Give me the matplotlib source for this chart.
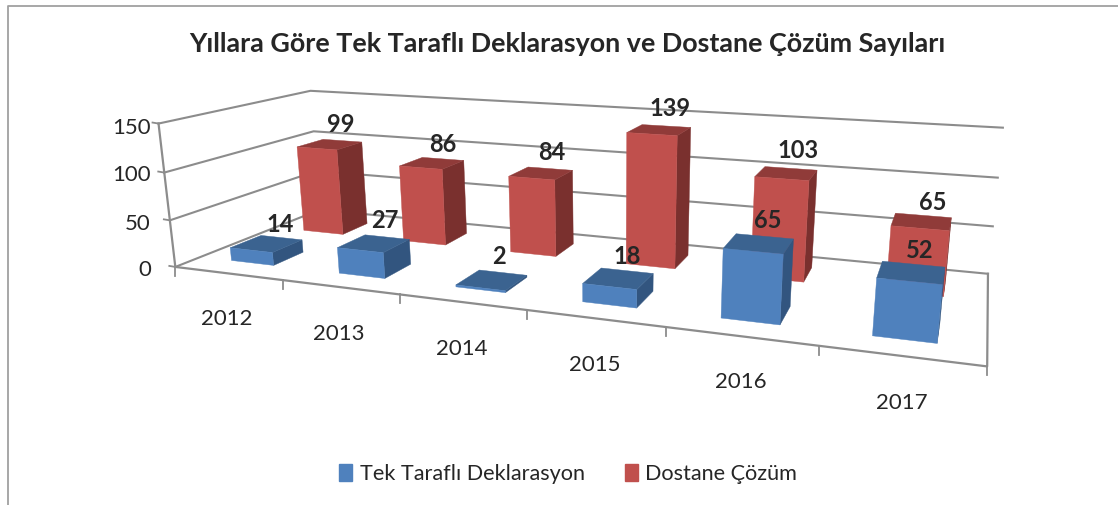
import matplotlib
matplotlib.use('Agg')
import matplotlib.pyplot as plt
import numpy as np
from matplotlib.patches import Patch

plt.rcParams['font.family'] = ['Lato', 'DejaVu Sans']

# Data
years = ['2012', '2013', '2014', '2015', '2016', '2017']
tek_tarafli = [14, 27, 2, 18, 65, 52]
dostane = [99, 86, 84, 139, 103, 65]
y_ticks = [0, 50, 100, 150]

title = 'Yıllara Göre Tek Taraflı Deklarasyon ve Dostane Çözüm Sayıları'
series_names = ['Tek Taraflı Deklarasyon', 'Dostane Çözüm']

# Colours: front, top, side
blue = ('#4F81BD', '#3B6390', '#32557F')
red = ('#C0504D', '#903B39', '#7A302E')
grid_col = '#8C8C8C'
text_col = '#262626'

# Where the corners of the 3d box land in the picture (x, depth, value) -> pixel
corners = [
    ((0, 0, 0), (175, 267)),
    ((0, 0, 150), (159, 123)),
    ((0, 1, 0), (320, 210)),
    ((0, 1, 150), (310, 91)),
    ((6, 1, 0), (988, 273)),
    ((6, 1, 150), (1003, 128)),
    ((6, 0, 0), (987, 367)),
]

# Fit a camera matrix to the corners
A = []
b = []
for (x, d, v), (px, py) in corners:
    A.append([x, d, v, 1, 0, 0, 0, 0, -px * x, -px * d, -px * v])
    A.append([0, 0, 0, 0, x, d, v, 1, -py * x, -py * d, -py * v])
    b += [px, py]
cam = np.linalg.lstsq(np.array(A, float), np.array(b, float), rcond=None)[0]
cam = np.append(cam, 1).reshape(3, 4)


def project(x, d, v):
    p = cam @ np.array([x, d, v, 1.0])
    return p[0] / p[2], p[1] / p[2]


def draw_bar(ax, x0, x1, d0, d1, v, cols):
    front = [(x0, d0, 0), (x1, d0, 0), (x1, d0, v), (x0, d0, v)]
    top = [(x0, d0, v), (x1, d0, v), (x1, d1, v), (x0, d1, v)]
    side = [(x1, d0, 0), (x1, d1, 0), (x1, d1, v), (x1, d0, v)]
    for face, col in ((side, cols[2]), (top, cols[1]), (front, cols[0])):
        pts = [project(*c) for c in face]
        ax.fill(*zip(*pts), color=col, lw=0.3, zorder=3)


fig = plt.figure(figsize=(11.18, 5.05), dpi=100)
ax = fig.add_axes([0, 0, 1, 1])
ax.set_xlim(0, 1118)
ax.set_ylim(505, 0)
ax.axis('off')

# Chart frame
ax.plot([8, 8, 1118], [505, 6, 6], color='#A0A0A0', lw=1.3)

# Walls and floor
for v in y_ticks:
    pts = [project(0, 0, v), project(0, 1, v), project(6, 1, v)]
    ax.plot(*zip(*pts), color=grid_col, lw=1.5, zorder=1)
pts = [project(0, 0, 150), project(0, 0, 0), project(6, 0, 0), project(6, 1, 0)]
ax.plot(*zip(*pts), color=grid_col, lw=1.6, zorder=1)

# Tick marks
for i in range(len(years) + 1):
    x, y = project(i, 0, 0)
    ax.plot([x, x], [y, y + 9], color=grid_col, lw=1.3, zorder=1)
for v in y_ticks:
    x, y = project(0, 0, v)
    ax.plot([x - 6, x], [y - 1, y], color=grid_col, lw=1.3, zorder=1)

# Bars, back row first
for i, v in enumerate(dostane):
    draw_bar(ax, i + 0.3, i + 0.7, 0.65, 0.85, v, red)
for i, v in enumerate(tek_tarafli):
    draw_bar(ax, i + 0.3, i + 0.7, 0.15, 0.35, v, blue)

# Text positions in the picture
blue_label_xy = [(280, 224), (385, 220), (499, 257), (627, 256), (768, 221), (920, 251)]
red_label_xy = [(341, 124), (443, 144), (552, 153), (670, 109), (798, 151), (933, 202)]
year_label_xy = [(227, 319), (339, 334), (462, 349), (595, 365), (741, 382), (902, 403)]
y_label_y = [270, 224, 175, 128]

for vals, xy in ((tek_tarafli, blue_label_xy), (dostane, red_label_xy)):
    for v, (x, y) in zip(vals, xy):
        ax.text(x, y, str(v), ha='center', va='center', fontsize=17,
                fontweight='bold', color=text_col, zorder=5)
for lab, (x, y) in zip(years, year_label_xy):
    ax.text(x, y, lab, ha='center', va='center', fontsize=16, color=text_col)
for v, y in zip(y_ticks, y_label_y):
    ax.text(151, y, str(v), ha='right', va='center', fontsize=16, color=text_col)

ax.text(567, 44, title, ha='center', va='center', fontsize=19.4,
        fontweight='bold', color=text_col)

handles = [Patch(color=blue[0], label=series_names[0]),
           Patch(color=red[0], label=series_names[1])]
ax.legend(handles=handles, loc='center', bbox_to_anchor=(568, 474),
          bbox_transform=ax.transData, ncol=2, frameon=False, fontsize=15.6,
          handlelength=0.6, handleheight=0.8, handletextpad=0.33,
          columnspacing=1.85, labelcolor=text_col, borderpad=0)

fig.savefig('out.png', dpi=100)
